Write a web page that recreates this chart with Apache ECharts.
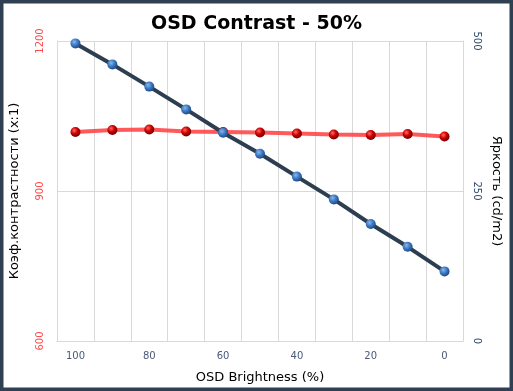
<!DOCTYPE html>
<html><head><meta charset="utf-8">
<script src="https://cdn.jsdelivr.net/npm/echarts@6/dist/echarts.min.js"></script>
<style>html,body{margin:0;padding:0;background:#fff}#c{width:513px;height:391px}</style>
</head><body><div id="c"></div>
<script>
const categories = ['100','90','80','70','60','50','40','30','20','10','0'];
const contrast = [1018, 1022, 1023, 1019, 1018, 1017, 1015, 1013, 1012, 1014, 1009];
const brightness = [496, 461, 424, 386, 347, 312, 274, 236, 195, 157, 116];
const leftTicks = [600, 900, 1200];
const rightTicks = [0, 250, 500];

const ff = 'DejaVu Sans';
function sphere(light, mid, dark){
  return {type:'radial',x:0.38,y:0.35,r:0.65,colorStops:[{offset:0,color:light},{offset:0.5,color:mid},{offset:1,color:dark}]};
}
const chart = echarts.init(document.getElementById('c'));
chart.setOption({
  animation:false,
  backgroundColor:'#fff',
  title:{text:'OSD Contrast - 50%',left:'center',top:10,textStyle:{fontFamily:ff,fontSize:19,fontWeight:'bold',color:'#000'}},
  grid:{left:57,right:50,top:41,bottom:50},
  xAxis:{type:'category',data:categories,boundaryGap:true,
    name:'OSD Brightness (%)',nameLocation:'middle',nameGap:30,
    nameTextStyle:{fontFamily:ff,fontSize:13,color:'#000'},
    axisLine:{lineStyle:{color:'#d9d9d9'}},axisTick:{show:false},
    axisLabel:{interval:1,fontFamily:ff,fontSize:10,color:'#4a5a78',margin:10},
    splitLine:{show:true,interval:0,lineStyle:{color:'#d9d9d9'}}},
  yAxis:[
    {type:'value',min:leftTicks[0],max:leftTicks[2],interval:300,position:'left',
     name:'Коэф.контрастности (x:1)',nameLocation:'middle',nameGap:36,
     nameTextStyle:{fontFamily:ff,fontSize:13,color:'#000'},
     axisLine:{show:true,lineStyle:{color:'#d9d9d9'}},axisTick:{show:false},
     axisLabel:{rotate:90,fontFamily:ff,fontSize:10,color:'#ff4a4a',margin:12,formatter:v=>String(v)},
     splitLine:{lineStyle:{color:'#d9d9d9'}}},
    {type:'value',min:rightTicks[0],max:rightTicks[2],interval:250,position:'right',
     name:'Яркость (cd/m2)',nameLocation:'middle',nameGap:26,nameRotate:-90,
     nameTextStyle:{fontFamily:ff,fontSize:13,color:'#000'},
     axisLine:{show:true,lineStyle:{color:'#d9d9d9'}},axisTick:{show:false},
     axisLabel:{rotate:-90,fontFamily:ff,fontSize:10,color:'#2c4a6e',margin:9,formatter:v=>String(v)},
     splitLine:{show:false}}
  ],
  series:[
    {type:'line',yAxisIndex:0,data:contrast,symbol:'circle',symbolSize:10,
     lineStyle:{color:'rgba(255,60,60,0.85)',width:4},
     itemStyle:{color:sphere('#ff6a6a','#d00000','#700000'),borderWidth:0},z:2},
    {type:'line',yAxisIndex:1,data:brightness,symbol:'circle',symbolSize:10,
     lineStyle:{color:'#2c3e50',width:4},
     itemStyle:{color:sphere('#8ab8ec','#3f7cc6','#1f4c86'),borderWidth:0},z:3}
  ],
  graphic:[{type:'rect',shape:{x:1.75,y:1.75,width:509.5,height:387.5},style:{fill:null,stroke:'#2f4052',lineWidth:3.5},silent:true,z:100}]
});
</script></body></html>
